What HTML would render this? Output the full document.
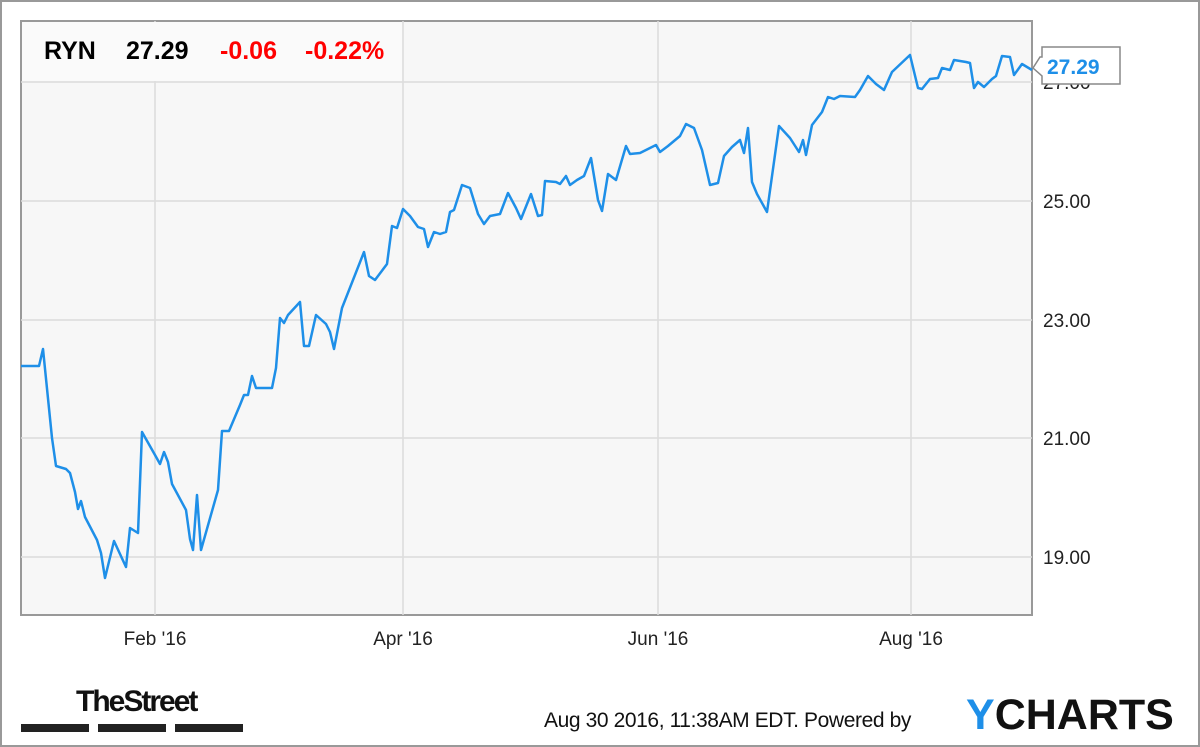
<!DOCTYPE html>
<html><head><style>
body{margin:0;width:1200px;height:747px;background:#fff;overflow:hidden}
svg{display:block}
</style></head><body>
<svg width="1200" height="747" xmlns="http://www.w3.org/2000/svg" font-family="Liberation Sans, Arial, sans-serif">
<rect x="1" y="1" width="1198" height="745" fill="#fff" stroke="#999" stroke-width="2"/>
<rect x="21" y="21" width="1011" height="594" fill="#f7f7f7" stroke="#999" stroke-width="2"/>
<g stroke="#dcdcdc" stroke-width="1.5">
<line x1="21" x2="1032" y1="82" y2="82"/><line x1="21" x2="1032" y1="201" y2="201"/>
<line x1="21" x2="1032" y1="320" y2="320"/><line x1="21" x2="1032" y1="438" y2="438"/>
<line x1="21" x2="1032" y1="557" y2="557"/>
<line x1="155" x2="155" y1="21" y2="615"/><line x1="403" x2="403" y1="21" y2="615"/>
<line x1="658" x2="658" y1="21" y2="615"/><line x1="911" x2="911" y1="21" y2="615"/>
</g>
<rect x="22" y="22" width="380" height="59" fill="#fafafa"/>
<g font-size="19" fill="#222">
<text x="1043" y="89">27.00</text><text x="1043" y="208">25.00</text><text x="1043" y="327">23.00</text>
<text x="1043" y="445">21.00</text><text x="1043" y="564">19.00</text>
</g>
<g font-size="19" fill="#222" text-anchor="middle">
<text x="155" y="645">Feb '16</text><text x="403" y="645">Apr '16</text>
<text x="658" y="645">Jun '16</text><text x="911" y="645">Aug '16</text>
</g>
<text x="44" y="59" font-size="25" font-weight="bold" fill="#000">RYN</text>
<text x="126" y="59" font-size="25" font-weight="bold" fill="#000">27.29</text>
<text x="220" y="59" font-size="25" font-weight="bold" fill="#f00">-0.06</text>
<text x="305" y="59" font-size="25" font-weight="bold" fill="#f00">-0.22%</text>
<polyline fill="none" stroke="#1e8fe8" stroke-width="2.5" stroke-linejoin="round" points="21,366 39,366 43,349 52,438 56,466 66,469 70,473 75,492 78,509 81,501 85,517 97,540 101,553 105,578 114,541 126,567 130,528 138,533 142,432 155,455 160,464 164,452 168,462 172,484 186,510 190,539 193,550 197,495 201,550 218,490 222,431 229,431 240,405 244,395 248,395 252,376 256,388 272,388 276,368 280,318 284,323 288,315 300,302 304,346 309,346 316,315 326,324 330,332 334,349 342,308 364,252 369,276 375,280 387,264 392,226 397,228 403,209 410,216 418,227 424,229 428,247 434,232 440,234 446,232 450,212 454,210 462,185 470,188 478,214 484,224 490,216 500,214 508,193 516,208 521,219 531,194 538,216 542,215 545,181 556,182 560,184 566,176 570,185 577,180 584,176 591,158 598,200 602,211 608,174 616,180 626,146 630,154 640,153 656,145 660,152 668,146 680,136 686,124 694,128 702,150 710,185 718,183 724,156 732,147 740,140 744,153 748,128 752,182 757,194 767,212 779,126 790,138 799,152 803,140 806,155 812,125 822,112 828,97 834,99 840,96 855,97 860,90 868,76 876,84 884,90 892,72 910,55 918,88 922,89 930,79 938,78 942,68 950,70 954,60 966,62 970,63 974,88 978,82 984,87 992,79 996,76 1002,56 1010,57 1014,75 1022,64 1032,70"/>
<path d="M1040,57 L1042,57 L1042,47 L1120,47 L1120,84 L1042,84 L1042,76 L1033,68 Z" fill="#fff" stroke="#888" stroke-width="1.5"/>
<text x="1047" y="74" font-size="21" font-weight="bold" fill="#1e8fe8">27.29</text>
<text x="76" y="711" font-size="30" font-weight="bold" fill="#111" letter-spacing="-2">TheStreet</text>
<rect x="21" y="724" width="68" height="8" fill="#222"/><rect x="98" y="724" width="68" height="8" fill="#222"/><rect x="175" y="724" width="68" height="8" fill="#222"/>
<text x="544" y="727" font-size="21" fill="#111" letter-spacing="-0.4">Aug 30 2016, 11:38AM EDT.  Powered by</text>
<text x="966" y="729" font-size="43" font-weight="bold" fill="#111" letter-spacing="0"><tspan fill="#1e8fe8">Y</tspan>CHARTS</text>
</svg>
</body></html>
